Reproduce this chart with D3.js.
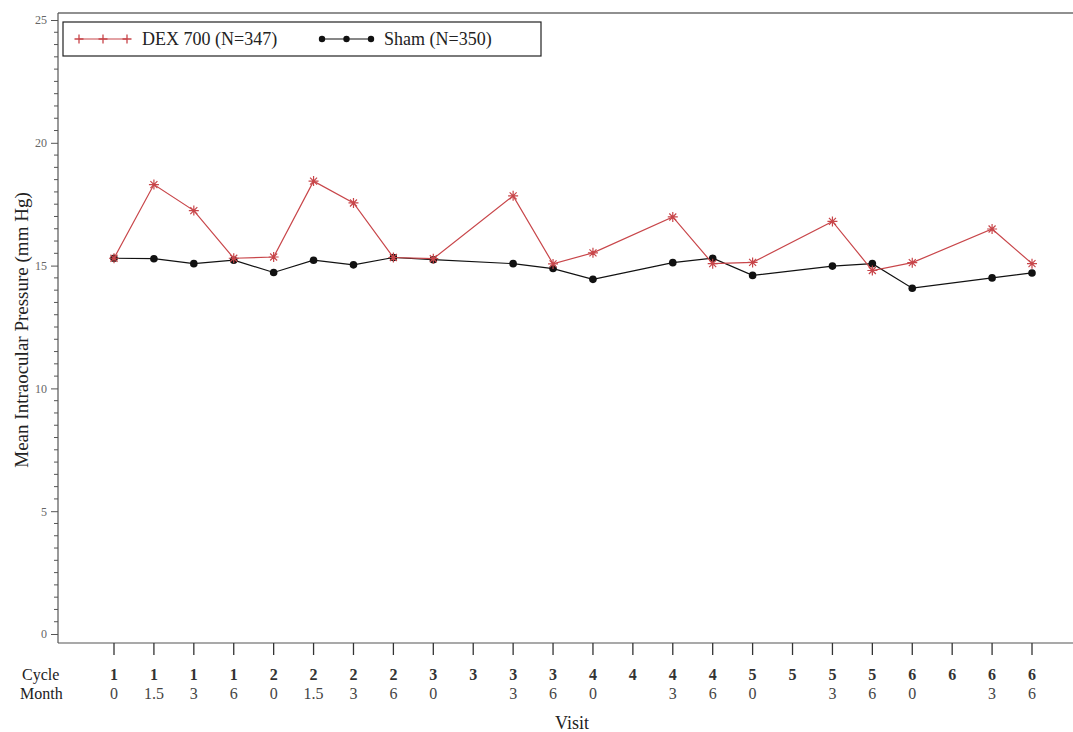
<!DOCTYPE html>
<html>
<head>
<meta charset="utf-8">
<script src="https://cdn.jsdelivr.net/npm/d3@7"></script>
<style>
  html, body { margin: 0; padding: 0; background: #fff; }
  svg { display: block; }
  text { font-family: "Liberation Serif", "DejaVu Serif", serif; }
</style>
</head>
<body>
<svg id="chart" width="1073" height="732"></svg>
<script>
// Visit labels (two rows under each tick)
const cycles = ["1","1","1","1","2","2","2","2","3","3","3","3","4","4","4","4","5","5","5","5","6","6","6","6"];
const months = ["0","1.5","3","6","0","1.5","3","6","0","","3","6","0","","3","6","0","","3","6","0","","3","6"];

// Mean IOP per visit (null = not measured at that visit)
const dexValues  = [15.3, 18.3, 17.24, 15.3, 15.35, 18.44, 17.55, 15.33, 15.28, null, 17.84, 15.07, 15.52, null, 16.98, 15.08, 15.13, null, 16.8, 14.8, 15.12, null, 16.49, 15.08];
const shamValues = [15.3, 15.28, 15.08, 15.22, 14.72, 15.22, 15.03, 15.33, 15.24, null, 15.08, 14.88, 14.44, null, 15.12, 15.3, 14.6, null, 14.98, 15.08, 14.08, null, 14.5, 14.7];

const yTicks = [0, 5, 10, 15, 20, 25];
const seriesNames = ["DEX 700 (N=347)", "Sham (N=350)"];

const svg = d3.select("#chart");
const red = "#c8464a";
const axisColor = "#555";

const x = d3.scaleLinear().domain([0, cycles.length - 1]).range([114, 1032]);
const y = d3.scaleLinear().domain([0, 25]).range([634, 20]);

const plotLeft = 58, plotTop = 13, plotBottom = 643, plotRight = 1073;

// frame: top rule and left/bottom axis lines
svg.append("line").attr("x1", plotLeft).attr("x2", plotRight).attr("y1", plotTop).attr("y2", plotTop)
  .attr("stroke", "#222").attr("stroke-width", 1.2);
svg.append("line").attr("x1", plotLeft).attr("x2", plotLeft).attr("y1", plotTop).attr("y2", plotBottom)
  .attr("stroke", axisColor).attr("stroke-width", 1.2);
svg.append("line").attr("x1", plotLeft).attr("x2", plotRight).attr("y1", plotBottom).attr("y2", plotBottom)
  .attr("stroke", axisColor).attr("stroke-width", 1.2);

// y axis: major ticks with labels, minor ticks every 0.5
const yAxis = d3.axisLeft(y).tickValues(yTicks).tickSize(7).tickPadding(4).tickFormat(d3.format("d"));
const gy = svg.append("g").attr("transform", `translate(${plotLeft},0)`).call(yAxis);
gy.select(".domain").remove();
gy.selectAll(".tick line").attr("stroke", axisColor);
gy.selectAll(".tick text").attr("font-size", 12).attr("fill", "#666")
  .attr("font-family", "'Liberation Serif', serif");

const minor = d3.range(0, 25.01, 0.5).filter(v => v % 5 !== 0);
svg.append("g").selectAll("line").data(minor).join("line")
  .attr("x1", plotLeft - 4).attr("x2", plotLeft)
  .attr("y1", d => y(d)).attr("y2", d => y(d))
  .attr("stroke", axisColor).attr("stroke-width", 1);

// x axis ticks
const idx = d3.range(cycles.length);
svg.append("g").selectAll("line").data(idx).join("line")
  .attr("x1", d => x(d)).attr("x2", d => x(d))
  .attr("y1", plotBottom).attr("y2", plotBottom + 12)
  .attr("stroke", "#333").attr("stroke-width", 1.3);

// two-row visit labels
svg.append("text").attr("x", 22).attr("y", 680).attr("font-size", 16).attr("fill", "#222").text("Cycle");
svg.append("text").attr("x", 20).attr("y", 699).attr("font-size", 16).attr("fill", "#222").text("Month");
svg.append("g").selectAll("text").data(idx).join("text")
  .attr("x", d => x(d)).attr("y", 680).attr("text-anchor", "middle")
  .attr("font-size", 16).attr("font-weight", "bold").attr("fill", "#333")
  .text(d => cycles[d]);
svg.append("g").selectAll("text").data(idx).join("text")
  .attr("x", d => x(d)).attr("y", 699).attr("text-anchor", "middle")
  .attr("font-size", 16).attr("fill", "#444")
  .text(d => months[d]);

// axis titles
svg.append("text").attr("x", 572).attr("y", 729).attr("text-anchor", "middle")
  .attr("font-size", 18).attr("fill", "#222").text("Visit");
svg.append("text").attr("transform", `translate(28,330) rotate(-90)`)
  .attr("text-anchor", "middle").attr("font-size", 19).attr("fill", "#222")
  .text("Mean Intraocular Pressure (mm Hg)");

// marker paths
function starPath(cx, cy, r) {
  const d = r * 0.7;
  return `M${cx - r},${cy}L${cx + r},${cy}M${cx},${cy - r}L${cx},${cy + r}` +
         `M${cx - d},${cy - d}L${cx + d},${cy + d}M${cx - d},${cy + d}L${cx + d},${cy - d}`;
}
function plusPath(cx, cy, r) {
  return `M${cx - r},${cy}L${cx + r},${cy}M${cx},${cy - r}L${cx},${cy + r}`;
}

const line = d3.line().x(d => x(d.i)).y(d => y(d.v));
const dexPts = dexValues.map((v, i) => ({ i, v })).filter(d => d.v !== null);
const shamPts = shamValues.map((v, i) => ({ i, v })).filter(d => d.v !== null);

// Sham series
svg.append("path").datum(shamPts).attr("d", line)
  .attr("fill", "none").attr("stroke", "#111").attr("stroke-width", 1.2);
svg.append("g").selectAll("circle").data(shamPts).join("circle")
  .attr("cx", d => x(d.i)).attr("cy", d => y(d.v)).attr("r", 3.8).attr("fill", "#111");

// DEX 700 series
svg.append("path").datum(dexPts).attr("d", line)
  .attr("fill", "none").attr("stroke", red).attr("stroke-width", 1.2);
svg.append("g").selectAll("path").data(dexPts).join("path")
  .attr("d", d => starPath(x(d.i), y(d.v), 5))
  .attr("stroke", red).attr("stroke-width", 1.2).attr("fill", "none");

// legend
const lg = svg.append("g");
lg.append("rect").attr("x", 63).attr("y", 22).attr("width", 478).attr("height", 34)
  .attr("fill", "#fff").attr("stroke", "#222").attr("stroke-width", 1.2);
const legendItems = [
  { name: seriesNames[0], x0: 79, x1: 127, tx: 142, color: red, type: "plus" },
  { name: seriesNames[1], x0: 322, x1: 371, tx: 384, color: "#111", type: "dot" }
];
legendItems.forEach(it => {
  const ly = 39;
  lg.append("line").attr("x1", it.x0).attr("x2", it.x1).attr("y1", ly).attr("y2", ly)
    .attr("stroke", it.color).attr("stroke-width", 1.2);
  [it.x0, (it.x0 + it.x1) / 2, it.x1].forEach(px => {
    if (it.type === "plus") {
      lg.append("path").attr("d", plusPath(px, ly, 4.5)).attr("stroke", it.color)
        .attr("stroke-width", 1.3).attr("fill", "none");
    } else {
      lg.append("circle").attr("cx", px).attr("cy", ly).attr("r", 3.2).attr("fill", it.color);
    }
  });
  lg.append("text").attr("x", it.tx).attr("y", ly + 6).attr("font-size", 18).attr("fill", "#222").text(it.name);
});
</script>
</body>
</html>
